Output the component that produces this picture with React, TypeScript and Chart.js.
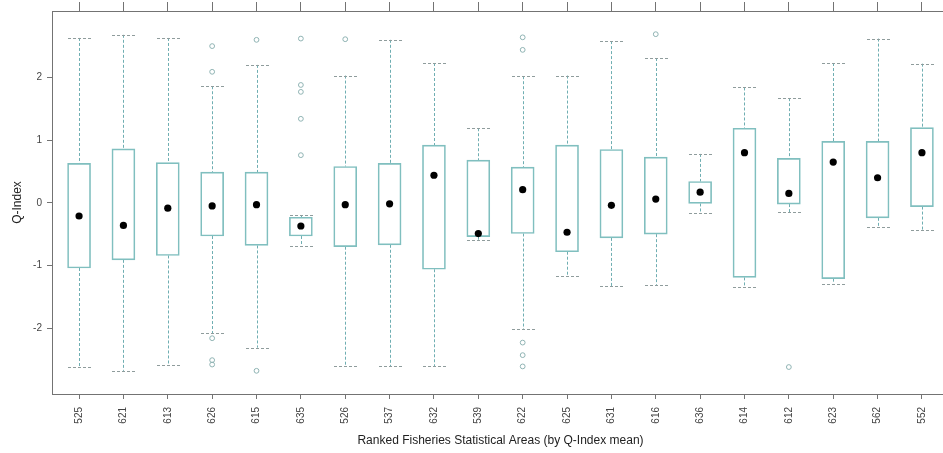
import React, { useEffect, useRef } from "react";
import { Chart, registerables } from "chart.js";

Chart.register(...registerables);

const categories = ["525","621","613","626","615","635","526","537","632","539","622","625","631","616","636","614","612","623","562","552"];
const whiskerHigh = [2.63,2.68,2.63,1.86,2.20,-0.20,2.03,2.60,2.23,1.19,2.02,2.03,2.58,2.31,0.78,1.84,1.67,2.23,2.62,2.22];
const upperQuartile = [0.63,0.86,0.64,0.49,0.49,-0.23,0.58,0.63,0.92,0.68,0.57,0.92,0.85,0.73,0.34,1.19,0.71,0.98,0.98,1.20];
const medianValues = [-0.21,-0.36,-0.085,-0.05,-0.03,-0.37,-0.03,-0.016,0.44,-0.49,0.21,-0.47,-0.04,0.06,0.17,0.80,0.15,0.65,0.40,0.80];
const lowerQuartile = [-1.04,-0.91,-0.84,-0.53,-0.68,-0.53,-0.70,-0.67,-1.06,-0.54,-0.49,-0.78,-0.56,-0.50,-0.01,-1.19,-0.02,-1.21,-0.24,-0.06];
const whiskerLow = [-2.62,-2.68,-2.59,-2.08,-2.31,-0.69,-2.60,-2.61,-2.61,-0.60,-2.02,-1.16,-1.33,-1.31,-0.17,-1.34,-0.15,-1.29,-0.38,-0.44];
const outlierAreas = ["626","626","626","626","626","615","615","635","635","635","635","635","526","622","622","622","622","622","616","612"];
const outlierValues = [2.50,2.09,-2.16,-2.51,-2.58,2.60,-2.68,2.62,1.88,1.77,1.34,0.76,2.61,2.64,2.44,-2.23,-2.43,-2.61,2.69,-2.62];
const yTicks = [-2, -1, 0, 1, 2];

const X_MIN = 0.39;
const X_MAX = categories.length + 0.61;
const Y_MIN = -3.05;
const Y_MAX = 3.06;
const BOX_W = 23;
const FONT = "'Liberation Sans', Arial, Helvetica, sans-serif";
const AXIS_COLOR = "#737373";
const CANVAS_W = 990;
const PLOT_RIGHT = 949;

const whiskerPlugin = {
  id: "whiskers",
  beforeDatasetsDraw(chart: any) {
    const { ctx, scales } = chart;
    const xs = scales.x;
    const ys = scales.y;
    ctx.save();
    ctx.lineWidth = 1;
    ctx.setLineDash([3, 2]);
    categories.forEach((_, i) => {
      const px = Math.round(xs.getPixelForValue(i + 1)) + 0.5;
      const hi = ys.getPixelForValue(whiskerHigh[i]);
      const q3 = ys.getPixelForValue(upperQuartile[i]);
      const q1 = ys.getPixelForValue(lowerQuartile[i]);
      const lo = ys.getPixelForValue(whiskerLow[i]);
      ctx.strokeStyle = "#6faeb2";
      ctx.beginPath();
      ctx.moveTo(px, hi);
      ctx.lineTo(px, q3);
      ctx.moveTo(px, q1);
      ctx.lineTo(px, lo);
      ctx.stroke();
      ctx.strokeStyle = "#8f9c9c";
      ctx.beginPath();
      const hy = Math.round(hi) + 0.5;
      const ly = Math.round(lo) + 0.5;
      ctx.moveTo(px - BOX_W / 2, hy);
      ctx.lineTo(px + BOX_W / 2, hy);
      ctx.moveTo(px - BOX_W / 2, ly);
      ctx.lineTo(px + BOX_W / 2, ly);
      ctx.stroke();
    });
    ctx.restore();
  },
};

export default function App() {
  const ref = useRef<HTMLCanvasElement | null>(null);

  useEffect(() => {
    if (!ref.current) return;
    const catTicks = (scale: any) => {
      scale.ticks = categories.map((_, i) => ({ value: i + 1 }));
    };
    const chart = new Chart(ref.current, {
      type: "bar",
      data: {
        datasets: [
          {
            type: "bar",
            label: "box",
            data: categories.map((_, i) => ({ x: i + 1, y: [lowerQuartile[i], upperQuartile[i]] })) as any,
            backgroundColor: "rgba(255,255,255,0)",
            borderColor: "#80bfbf",
            borderWidth: 1,
            borderSkipped: false,
            barThickness: BOX_W,
            grouped: false,
            order: 3,
          } as any,
          {
            type: "scatter",
            label: "outliers",
            data: outlierAreas.map((a, i) => ({ x: categories.indexOf(a) + 1, y: outlierValues[i] })),
            pointRadius: 2.4,
            pointStyle: "circle",
            backgroundColor: "rgba(255,255,255,0)",
            borderColor: "#8fb3b3",
            borderWidth: 1,
            order: 2,
          } as any,
          {
            type: "scatter",
            label: "median",
            data: medianValues.map((v, i) => ({ x: i + 1, y: v })),
            pointRadius: 3.6,
            pointStyle: "circle",
            backgroundColor: "#000000",
            borderColor: "#000000",
            borderWidth: 0,
            order: 1,
          } as any,
        ],
      },
      options: {
        animation: false,
        responsive: false,
        maintainAspectRatio: false,
        layout: { padding: { left: 0, right: CANVAS_W - PLOT_RIGHT, top: 0, bottom: 0 } },
        plugins: { legend: { display: false }, tooltip: { enabled: false }, title: { display: false } },
        scales: {
          x: {
            type: "linear",
            position: "bottom",
            min: X_MIN,
            max: X_MAX,
            offset: false,
            afterBuildTicks: catTicks,
            afterFit: (s: any) => { s.height = 59; },
            grid: { offset: false, drawOnChartArea: false, drawTicks: true, tickLength: 5, tickColor: AXIS_COLOR },
            border: { display: true, color: AXIS_COLOR },
            ticks: {
              includeBounds: false,
              minRotation: 90,
              maxRotation: 90,
              autoSkip: false,
              padding: 8,
              color: "#444",
              font: { family: FONT, size: 10 },
              callback: (v: any) => categories[Math.round(Number(v)) - 1] ?? "",
            },
            title: {
              display: true,
              text: "Ranked Fisheries Statistical Areas (by Q-Index mean)",
              color: "#222",
              font: { family: FONT, size: 12 },
              padding: { top: 0, bottom: 5 },
            },
          },
          x2: {
            type: "linear",
            position: "top",
            min: X_MIN,
            max: X_MAX,
            offset: false,
            afterBuildTicks: catTicks,
            afterFit: (s: any) => { s.height = 9; },
            grid: { offset: false, drawOnChartArea: false, drawTicks: true, tickLength: 9, tickColor: AXIS_COLOR },
            border: { display: true, color: AXIS_COLOR },
            ticks: { includeBounds: false, callback: () => "", padding: 0 },
          },
          y: {
            type: "linear",
            position: "left",
            min: Y_MIN,
            max: Y_MAX,
            afterBuildTicks: (s: any) => { s.ticks = yTicks.map((v) => ({ value: v })); },
            afterFit: (s: any) => { s.width = 52; },
            grid: { drawOnChartArea: false, drawTicks: true, tickLength: 5, tickColor: AXIS_COLOR },
            border: { display: true, color: AXIS_COLOR },
            ticks: {
              padding: 5,
              color: "#444",
              font: { family: FONT, size: 10 },
              callback: (v: any) => String(v),
            },
            title: {
              display: true,
              text: "Q-Index",
              color: "#222",
              font: { family: FONT, size: 12 },
              padding: { top: 10, bottom: 0 },
            },
          },
        },
      } as any,
      plugins: [whiskerPlugin],
    });
    return () => chart.destroy();
  }, []);

  return (
    <div style={{ position: "absolute", left: 0, top: 0, width: 943, height: 453, overflow: "hidden", background: "#fff" }}>
      <canvas ref={ref} width={CANVAS_W} height={453} style={{ display: "block" }} />
    </div>
  );
}
